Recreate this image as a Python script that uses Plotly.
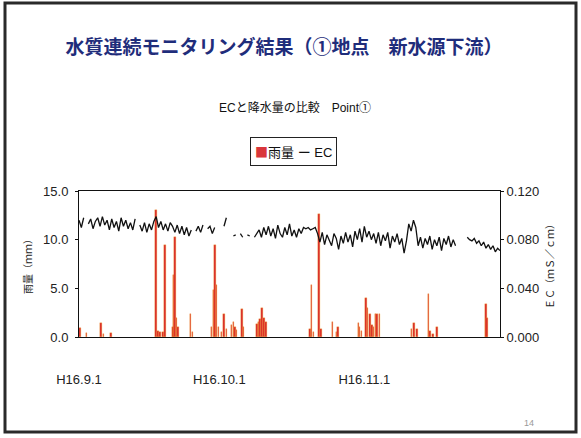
import pandas as pd
import plotly.graph_objects as go

# Hourly rainfall events (mm), Sep-Nov 2004 (H16)
rain_time = [
    "2004-09-01 05:00", "2004-09-02 14:00", "2004-09-05 17:00", "2004-09-06 05:00",
    "2004-09-07 20:00", "2004-09-17 11:00", "2004-09-17 21:00", "2004-09-18 07:00",
    "2004-09-19 00:00", "2004-09-19 10:00", "2004-09-21 01:00", "2004-09-21 04:00",
    "2004-09-21 12:00", "2004-09-21 21:00", "2004-09-22 05:00", "2004-09-24 21:00",
    "2004-09-25 07:00", "2004-09-29 08:00", "2004-09-29 17:00", "2004-09-30 01:00",
    "2004-09-30 10:00", "2004-09-30 19:00", "2004-10-01 12:00", "2004-10-02 01:00",
    "2004-10-02 13:00", "2004-10-03 15:00", "2004-10-04 00:00", "2004-10-04 08:00",
    "2004-10-04 17:00", "2004-10-05 19:00", "2004-10-06 03:00", "2004-10-09 00:00",
    "2004-10-09 08:00", "2004-10-09 16:00", "2004-10-10 04:00", "2004-10-10 12:00",
    "2004-10-11 00:00", "2004-10-20 09:00", "2004-10-20 17:00", "2004-10-21 02:00",
    "2004-10-22 08:00", "2004-10-22 17:00", "2004-10-25 05:00", "2004-10-26 02:00",
    "2004-10-26 10:00", "2004-10-30 17:00", "2004-10-31 00:00", "2004-10-31 10:00",
    "2004-11-01 08:00", "2004-11-01 17:00", "2004-11-02 05:00", "2004-11-02 15:00",
    "2004-11-03 00:00", "2004-11-03 10:00", "2004-11-03 17:00", "2004-11-04 05:00",
    "2004-11-11 02:00", "2004-11-11 14:00", "2004-11-12 05:00", "2004-11-14 17:00",
    "2004-11-15 00:00", "2004-11-15 17:00", "2004-11-16 14:00", "2004-11-27 00:00",
    "2004-11-27 05:00",
]
rain_mm = [
    0.9, 0.4, 1.4, 0.3,
    0.4, 13.0, 0.6, 0.5,
    0.5, 9.5, 1.0, 6.4,
    10.3, 2.0, 1.0, 2.4,
    0.5, 1.0, 4.8, 9.5,
    5.3, 1.0, 0.5, 2.4,
    0.8, 1.2, 1.5, 1.0,
    0.7, 2.9, 1.0, 1.3,
    1.5, 1.8, 3.0, 2.0,
    1.5, 0.8, 5.3, 0.5,
    12.6, 0.8, 1.5, 0.5,
    1.0, 1.4, 1.0, 0.6,
    4.0, 3.0, 2.4, 1.2,
    1.0, 2.4, 2.4, 2.4,
    0.8, 1.4, 0.8, 4.4,
    0.6, 0.3, 1.0, 3.4,
    2.0,
]

# EC (mS/cm), readings every 12 hours from 2004-09-01 00:00; None = missing
ec_ms_cm = [
    # Sep 1-10
    0.096, 0.090, 0.098, None, 0.093, 0.097, 0.089, 0.095, 0.098, 0.091,
    0.099, 0.092, 0.096, 0.088, 0.097, 0.090, 0.095, 0.087, 0.098, 0.091,
    # Sep 11-20
    0.096, 0.089, 0.094, 0.088, 0.097, None, 0.092, 0.087, 0.094, 0.086,
    0.093, 0.088, 0.095, 0.099, 0.090, 0.095, 0.088, 0.093, 0.087, 0.094,
    # Sep 21-30
    0.091, 0.086, 0.092, 0.085, 0.091, 0.084, 0.090, 0.083, 0.088, None,
    0.087, 0.091, 0.086, 0.092, None, 0.089, 0.091, 0.085, 0.090, None,
    # Oct 1-10
    None, None, 0.091, 0.098, None, None, 0.083, 0.084, None, 0.085,
    0.082, None, 0.084, 0.083, None, 0.082, 0.085, 0.088, 0.082, 0.090,
    # Oct 11-20
    0.084, 0.091, 0.083, 0.089, 0.081, 0.092, 0.085, 0.082, 0.090, 0.084,
    0.093, 0.083, 0.088, 0.082, 0.089, 0.085, 0.090, 0.089, 0.090, 0.088,
    # Oct 21-30
    0.089, 0.090, 0.085, 0.078, 0.086, 0.076, 0.084, 0.079, 0.075, 0.085,
    0.081, 0.072, 0.083, 0.077, 0.086, 0.078, 0.084, 0.074, 0.087, 0.080,
    # Oct 31 - Nov 9
    0.089, 0.078, 0.091, 0.082, 0.087, 0.080, 0.085, 0.077, 0.086, 0.075,
    0.084, 0.079, 0.086, 0.073, 0.083, 0.078, 0.085, 0.076, 0.081, 0.069,
    # Nov 10-19
    0.079, 0.093, 0.087, 0.096, 0.090, 0.075, 0.082, 0.073, 0.081, 0.076,
    0.083, 0.072, 0.080, 0.075, 0.082, 0.071, 0.081, 0.076, 0.083, 0.074,
    # Nov 20-29
    0.080, 0.075, None, None, None, None, 0.082, 0.080, 0.079, 0.081,
    0.077, 0.079, 0.075, 0.078, 0.073, 0.076, 0.072, 0.075, 0.070, 0.073,
    # Nov 30
    0.071,
]
ec_time = pd.date_range("2004-09-01", periods=len(ec_ms_cm), freq="12h")

tick_dates = ["2004-09-01", "2004-10-01", "2004-11-01"]
tick_labels = ["H16.9.1", "H16.10.1", "H16.11.1"]

NUM = "Liberation Sans, Arial, sans-serif"
NARROW = "Liberation Sans, Noto Sans CJK JP, sans-serif"
CJK = "Noto Sans CJK JP, sans-serif"

fig = go.Figure()
fig.add_trace(go.Bar(
    x=rain_time, y=rain_mm, name="雨量",
    width=0.32 * 86400000,
    marker=dict(color="#d8262c", line=dict(color="#f0a623", width=0.35)),
    showlegend=False,
))
fig.add_trace(go.Scatter(
    x=ec_time, y=ec_ms_cm, name="EC", yaxis="y2", mode="lines",
    line=dict(color="#111111", width=1.3), connectgaps=False,
    showlegend=False,
))

# plot area pixel box: x 79..500, y 191..337 in a 581x438 page
L, R, T, B = 79, 500, 191, 337
W, H = 581, 438


def px(x):
    return (x - L) / (R - L)


def py(y):
    return (B - y) / (B - T)


def note(text, x, y, **kw):
    return dict(text=text, xref="paper", yref="paper", x=px(x), y=py(y),
                xanchor="center", yanchor="middle", showarrow=False, **kw)


fig.update_layout(
    width=W, height=H,
    margin=dict(l=L, r=W - R, t=T, b=H - B),
    paper_bgcolor="white", plot_bgcolor="white",
    bargap=0,
    title=dict(
        text="水質連続モニタリング結果（①地点　新水源下流）",
        x=284 / W, y=1 - 47 / H, xanchor="center", yanchor="middle",
        font=dict(family=CJK, size=19, color="#1f2d7b", weight="bold"),
    ),
    xaxis=dict(
        type="date", range=["2004-09-01", "2004-11-30"],
        tickvals=tick_dates, ticktext=tick_labels,
        ticks="", showgrid=False, zeroline=False,
        showline=True, linecolor="#111", linewidth=1, mirror=True,
        ticklabelstandoff=30,
        tickfont=dict(family=NUM, size=13, color="#222"),
    ),
    yaxis=dict(
        range=[0, 15], tickvals=[0, 5, 10, 15], tickformat=".1f",
        showgrid=False, zeroline=False,
        showline=True, linecolor="#111", linewidth=1,
        ticks="outside", ticklen=3, tickcolor="#111", ticklabelstandoff=4,
        tickfont=dict(family=NUM, size=13, color="#222"),
        title=dict(text="雨量（ｍｍ）", standoff=8,
                   font=dict(family=CJK, size=10, color="#222")),
    ),
    yaxis2=dict(
        overlaying="y", side="right", range=[0, 0.12],
        tickvals=[0, 0.04, 0.08, 0.12], tickformat=".3f",
        showgrid=False, zeroline=False,
        showline=True, linecolor="#111", linewidth=1,
        ticks="outside", ticklen=3, tickcolor="#111",
        tickfont=dict(family=NUM, size=13, color="#222"),
        title=dict(text="ＥＣ（ｍＳ／ｃｍ）", standoff=8,
                   font=dict(family=CJK, size=10, color="#222")),
    ),
    annotations=[
        note("ECと降水量の比較　Point①", 295, 108,
             font=dict(family=NARROW, size=12, color="#111")),
        note("<span style='color:#d9363b;font-family:Noto Sans CJK JP'>■</span>"
             "雨量 ー EC", 293, 151,
             bordercolor="#222", borderwidth=1, borderpad=4, bgcolor="white",
             font=dict(family=NARROW, size=13, color="#111")),
        note("14", 529, 423, font=dict(family=NUM, size=9, color="#999")),
    ],
    shapes=[
        dict(type="rect", xref="paper", yref="paper",
             x0=px(5), x1=px(576), y0=py(3), y1=py(432),
             line=dict(color="#2a2a2a", width=3), layer="below"),
    ],
)

fig.write_html("out.html")
